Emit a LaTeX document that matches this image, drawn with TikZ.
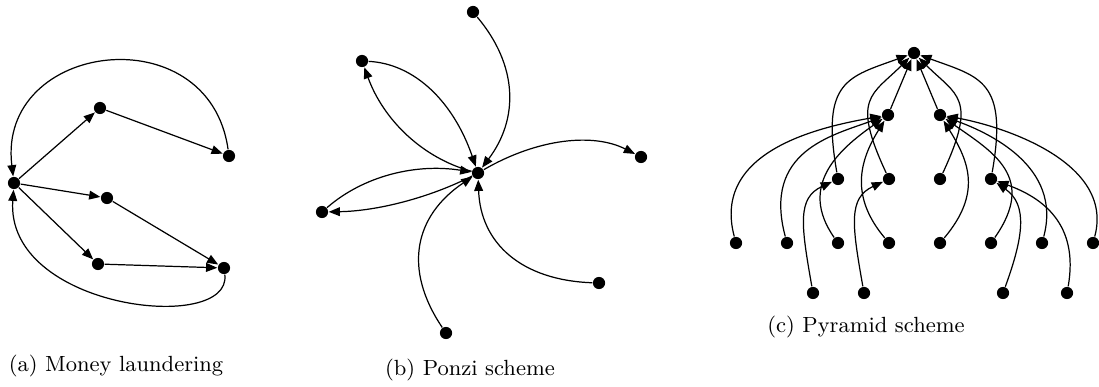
\documentclass[tikz,border=0pt]{standalone}
\usepackage{amsmath,amssymb}
\usetikzlibrary{arrows.meta}

\begin{document}
\begin{tikzpicture}[x=0.41pt, y=0.41pt, line width=0.5pt,
    every node/.style = {shape=circle, fill=black, inner sep=0pt, minimum size=5pt},
    flow/.style = {-{Triangle[length=4.6pt,width=3.6pt]}},
    subcap/.style = {shape=rectangle, fill=none, minimum size=0pt, inner sep=1pt,
      font=\fontsize{9}{11}\selectfont}]
  \useasboundingbox (0,0) rectangle (1099,386);

  % (a) money laundering
  \node (mL) at (14,203) {};
  \node (mA1) at (100,278) {};
  \node (mA2) at (229,230) {};
  \node (mB1) at (107,188) {};
  \node (mC1) at (98,122) {};
  \node (mC2) at (224,118) {};
  \draw[flow] (mL) -- (mA1);
  \draw[flow] (mA1) -- (mA2);
  \draw[flow] (mA2) .. controls +(98:143) and +(97:143) .. (mL);
  \draw[flow] (mL) -- (mB1);
  \draw[flow] (mB1) -- (mC2);
  \draw[flow] (mL) -- (mC1);
  \draw[flow] (mC1) -- (mC2);
  \draw[flow] (mC2) .. controls +(277:67) and +(266:127) .. (mL);
  \node[subcap] (capa) at (116,20) {(a) Money laundering};

  % (b) ponzi scheme
  \node (pH) at (478,213) {};
  \node (pT) at (473,374) {};
  \node (pUL) at (362,325) {};
  \node (pR) at (641,229) {};
  \node (pLf) at (322,174) {};
  \node (pBR) at (599,103) {};
  \node (pB) at (446,53) {};
  \draw[flow] (pT) .. controls +(310:70) and +(53:68) .. (pH);
  \draw[flow] (pUL) .. controls +(357:53) and +(109:75) .. (pH);
  \draw[flow] (pH) .. controls +(165:57) and +(290:63) .. (pUL);
  \draw[flow] (pLf) .. controls +(41:55) and +(171:63) .. (pH);
  \draw[flow] (pH) .. controls +(207:55) and +(1:55) .. (pLf);
  \draw[flow] (pH) .. controls +(30:70) and +(153:53) .. (pR);
  \draw[flow] (pBR) .. controls +(178:78) and +(272:70) .. (pH);
  \draw[flow] (pB) .. controls +(124:77) and +(214:77) .. (pH);
  \node[subcap] (capb) at (470,16) {(b) Ponzi scheme};

  % (c) pyramid scheme
  \node (yR) at (914,333) {};
  \node (yA) at (888,271) {};
  \node (yB) at (940,271) {};
  \node (y2a) at (838,207) {};
  \node (y2b) at (889,207) {};
  \node (y2c) at (940,207) {};
  \node (y2d) at (991,207) {};
  \node (y3a) at (736,143) {};
  \node (y3b) at (787,143) {};
  \node (y3c) at (838,143) {};
  \node (y3d) at (889,143) {};
  \node (y3e) at (940,143) {};
  \node (y3f) at (991,143) {};
  \node (y3g) at (1042,143) {};
  \node (y3h) at (1093,143) {};
  \node (y4a) at (813,93) {};
  \node (y4b) at (864,93) {};
  \node (y4c) at (1003,93) {};
  \node (y4d) at (1067,93) {};
  \draw[flow] (yA) -- (yR);
  \draw[flow] (yB) -- (yR);
  \draw[flow] (y2a) .. controls +(100:100) and +(200:70) .. (yR);
  \draw[flow] (y2b) .. controls +(115:90) and +(225:60) .. (yR);
  \draw[flow] (y2c) .. controls +(65:90) and +(315:60) .. (yR);
  \draw[flow] (y2d) .. controls +(80:100) and +(340:70) .. (yR);
  \draw[flow] (y3a) .. controls +(105:95) and +(190:70) .. (yA);
  \draw[flow] (y3b) .. controls +(105:95) and +(200:60) .. (yA);
  \draw[flow] (y3c) .. controls +(125:70) and +(215:60) .. (yA);
  \draw[flow] (y3d) .. controls +(130:60) and +(238:55) .. (yA);
  \draw[flow] (y3e) .. controls +(50:65) and +(302:55) .. (yB);
  \draw[flow] (y3f) .. controls +(55:80) and +(325:65) .. (yB);
  \draw[flow] (y3g) .. controls +(75:80) and +(340:50) .. (yB);
  \draw[flow] (y3h) .. controls +(75:85) and +(350:60) .. (yB);
  \draw[flow] (y4a) .. controls +(100:70) and +(205:45) .. (y2a);
  \draw[flow] (y4b) .. controls +(100:70) and +(205:45) .. (y2b);
  \draw[flow] (y4c) .. controls +(70:60) and +(325:45) .. (y2d);
  \draw[flow] (y4d) .. controls +(80:70) and +(340:55) .. (y2d);
  \node[subcap] (capc) at (866,59) {(c) Pyramid scheme};
\end{tikzpicture}
\end{document}
